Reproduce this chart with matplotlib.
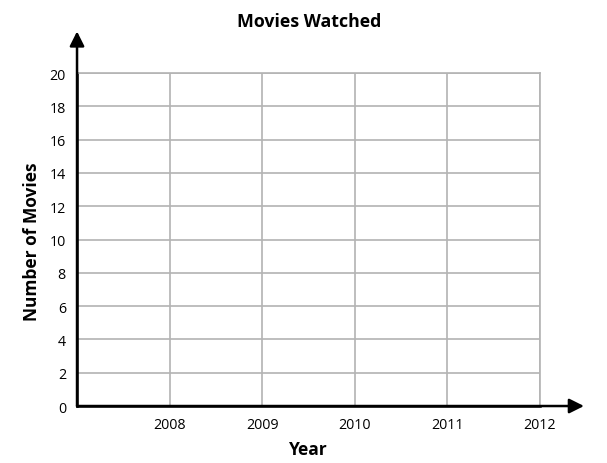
import matplotlib.pyplot as plt

years = [2008, 2009, 2010, 2011, 2012]
movie_ticks = [0, 2, 4, 6, 8, 10, 12, 14, 16, 18, 20]

plt.rcParams['font.family'] = ['Open Sans', 'DejaVu Sans']

fig = plt.figure(figsize=(6.07, 4.64), dpi=100)
ax = fig.add_axes([0.1269, 0.1228, 0.7627, 0.7177])

ax.set_xlim(2007, 2012)
ax.set_ylim(0, 20)
ax.set_xticks(years)
ax.set_yticks(movie_ticks)
ax.tick_params(length=0, labelsize=10.3, pad=8)
ax.grid(True, color='#b3b3b3', lw=1.2)
ax.set_axisbelow(True)

for s in ['top', 'right']:
    ax.spines[s].set_color('#b3b3b3')
    ax.spines[s].set_linewidth(1.2)
for s in ['left', 'bottom']:
    ax.spines[s].set_color('black')
    ax.spines[s].set_linewidth(1.8)

# arrows on the axes
ax.annotate('', xy=(0, 1.125), xytext=(0, 0), xycoords='axes fraction',
            arrowprops=dict(arrowstyle='-|>', color='black', lw=1.8,
                            mutation_scale=22, shrinkA=0, shrinkB=0))
ax.annotate('', xy=(1.095, 0), xytext=(0, 0), xycoords='axes fraction',
            arrowprops=dict(arrowstyle='-|>', color='black', lw=1.8,
                            mutation_scale=22, shrinkA=0, shrinkB=0))

fig.text(0.51, 0.952, 'Movies Watched', ha='center', va='center',
         fontsize=12.8, fontweight='bold')
fig.text(0.508, 0.03, 'Year', ha='center', va='center',
         fontsize=12.5, fontweight='bold')
fig.text(0.053, 0.48, 'Number of Movies', ha='center', va='center',
         rotation=90, fontsize=12.5, fontweight='bold')

fig.savefig('out.png', dpi=100)
